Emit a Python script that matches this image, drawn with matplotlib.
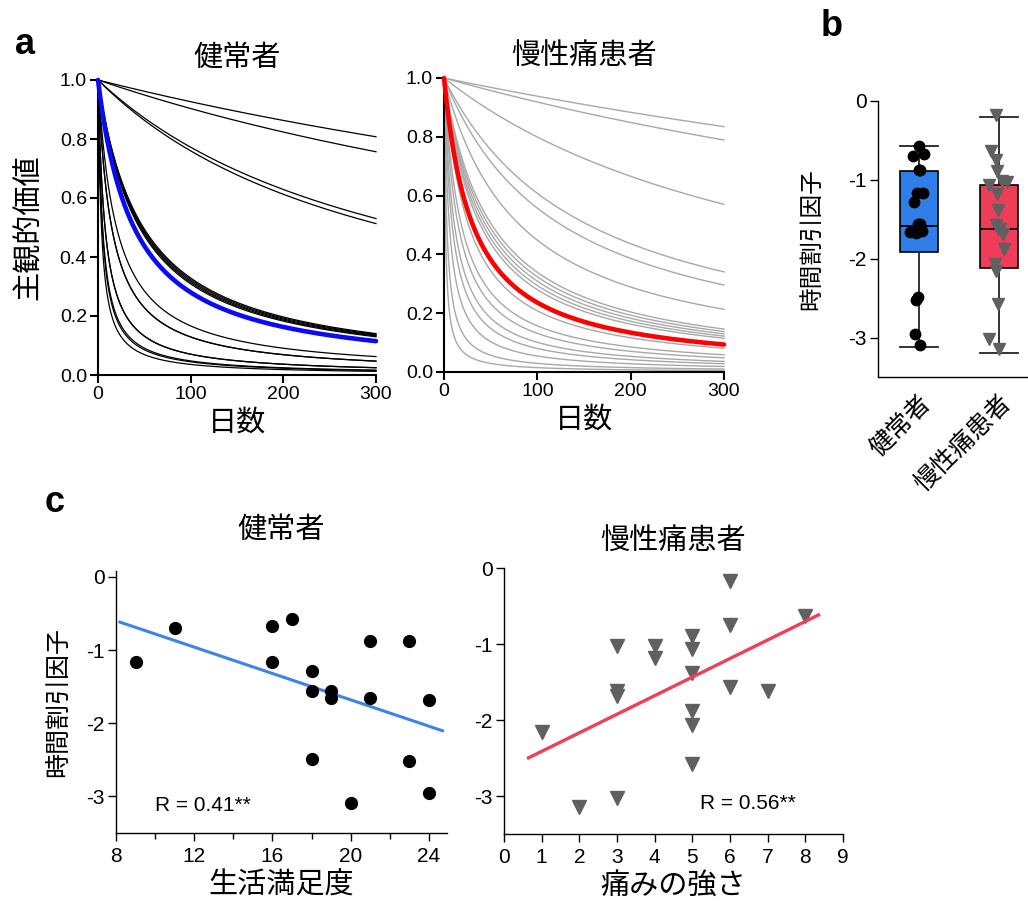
import matplotlib
matplotlib.use("Agg")
from matplotlib import pyplot as plt
import numpy as np

plt.rcParams['font.family'] = ['Liberation Sans', 'Noto Sans CJK JP']
plt.rcParams['axes.unicode_minus'] = False

# discount factors (log10 k) of the individual curves in panel a
h_curve_fac = [-3.10, -2.97, -2.53, -2.50, -1.69, -1.68, -1.67, -1.66, -1.65,
               -1.30, -1.17, -1.17, -0.88, -0.88, -0.70, -0.67, -0.57]
p_curve_fac = [-3.18, -3.05, -2.60, -2.19, -2.10, -1.91, -1.71, -1.68, -1.65,
               -1.62, -1.59, -1.42, -1.27, -1.18, -1.05, -0.94, -0.76, -0.48, -0.175]
h_group_fac = -1.59
p_group_fac = -1.49

# healthy group: life satisfaction vs discount factor
h_sat = [9, 11, 16, 16, 17, 18, 18, 18, 19, 19, 20, 21, 21, 23, 23, 24, 24]
h_fac = [-1.17, -0.70, -0.67, -1.17, -0.57, -1.28, -1.56, -2.49, -1.56, -1.66,
         -3.09, -0.88, -1.65, -0.88, -2.52, -1.68, -2.96]
# chronic pain group: pain intensity vs discount factor
p_int = [1, 2, 3, 3, 3, 3, 4, 4, 5, 5, 5, 5, 5, 5, 6, 6, 6, 7, 8]
p_fac = [-2.16, -3.14, -1.02, -1.62, -1.69, -3.02, -1.03, -1.18, -0.89, -1.07,
         -1.38, -1.88, -2.07, -2.58, -0.175, -0.745, -1.57, -1.62, -0.635]

# box stats
box_h = dict(med=-1.59, q1=-1.91, q3=-0.89, whislo=-3.12, whishi=-0.574, fliers=[])
box_p = dict(med=-1.62, q1=-2.12, q3=-1.06, whislo=-3.196, whishi=-0.204, fliers=[])

# jitter of the dots in panel b
jit_h = [0.05, -0.075, 0.066, -0.025, 0.0, -0.058, 0.008, -0.008, -0.017, -0.108,
         0.008, 0.017, 0.037, 0.0, -0.033, -0.033, -0.05]
jit_p = [-0.037, 0.0, 0.033, 0.012, 0.046, -0.12, 0.104, -0.029, -0.021, -0.12,
         -0.008, 0.062, -0.05, -0.008, -0.041, -0.037, -0.037, -0.02, -0.104]

group_names = ['健常者', '慢性痛患者']

W, H = 1028, 905
fig = plt.figure(figsize=(W / 100, H / 100), dpi=100)


def px_axes(l, t, r, b):
    return fig.add_axes([l / W, 1 - b / H, (r - l) / W, (b - t) / H])


def style(ax, lw=1.0, size=15):
    ax.spines['top'].set_visible(False)
    ax.spines['right'].set_visible(False)
    ax.spines['left'].set_linewidth(lw)
    ax.spines['bottom'].set_linewidth(lw)
    ax.tick_params(direction='out', length=6, width=lw, labelsize=size, pad=2)


days = np.linspace(0, 300, 601)

# ---- panel a
for (l, t, r, b), fac, col, lw, gfac, gcol, title in [
        ((98, 80, 376, 375), h_curve_fac, 'black', 0.9, h_group_fac, '#0a0af5', '健常者'),
        ((444, 78, 724, 372), p_curve_fac, '#a8a8a8', 1.0, p_group_fac, '#ff0000', '慢性痛患者')]:
    ax = px_axes(l, t, r, b)
    for f in fac:
        ax.plot(days, 1 / (1 + 10 ** f * days), color=col, lw=lw, clip_on=False)
    ax.plot(days, 1 / (1 + 10 ** gfac * days), color=gcol, lw=3.3,
            solid_capstyle='round', clip_on=False, zorder=5)
    ax.set_xlim(0, 300)
    ax.set_ylim(0, 1)
    ax.set_xticks([0, 100, 200, 300])
    ax.set_yticks([0, 0.2, 0.4, 0.6, 0.8, 1.0])
    ax.set_yticklabels(['0.0', '0.2', '0.4', '0.6', '0.8', '1.0'])
    style(ax, lw=1.5, size=14)
    ax.set_title(title, fontsize=21, pad=10)
    ax.set_xlabel('日数', fontsize=21, labelpad=4)
    if l < 200:
        ax.set_ylabel('主観的価値', fontsize=21, labelpad=12)

# ---- panel b
axb = px_axes(878, 101, 1028, 377)
axb.bxp([box_h, box_p], positions=[1, 2], widths=0.47, patch_artist=True,
        showfliers=False,
        boxprops=dict(linewidth=1.2, edgecolor='black'),
        medianprops=dict(color='black', linewidth=1.3),
        whiskerprops=dict(color='#222222', linewidth=1.3),
        capprops=dict(color='#222222', linewidth=1.3), capwidths=0.47)
axb.patches[0].set_facecolor('#2f7de6')
axb.patches[1].set_facecolor('#ef3c59')
axb.plot(1 + np.array(jit_h), h_fac, 'o', color='black', ms=7.5, zorder=5,
         clip_on=False)
axb.plot(2 + np.array(jit_p), p_fac, 'v', color='#606060', ms=9, zorder=5,
         clip_on=False)
axb.set_xlim(0.49, 2.36)
axb.set_ylim(-3.5, 0)
axb.set_yticks([0, -1, -2, -3])
axb.set_yticklabels(['0', '-1', '-2', '-3'])
style(axb, lw=1.0, size=15)
axb.set_xticks([1, 2])
axb.set_xticklabels(group_names, rotation=45, ha='right', rotation_mode='anchor',
                    fontsize=18)
axb.tick_params(axis='x', length=0, pad=10)
axb.set_ylabel('時間割引因子', fontsize=17, labelpad=18)

# ---- panel c, healthy
axc1 = px_axes(116, 571, 447, 833)
axc1.plot(h_sat, h_fac, 'o', color='black', ms=8.5, zorder=4)
slope, icpt = np.polyfit(h_sat, h_fac, 1)
xx = np.array([8.2, 24.7])
axc1.plot(xx, slope * xx + icpt, color='#3a85e8', lw=2.2, zorder=3)
axc1.set_xlim(8, 24.93)
axc1.set_ylim(-3.5, 0.08)
axc1.set_xticks([8, 12, 16, 20, 24])
axc1.set_xticks([10, 14, 18, 22], minor=True)
axc1.set_yticks([0, -1, -2, -3])
axc1.set_yticklabels(['0', '-1', '-2', '-3'])
style(axc1, lw=1.0, size=15)
axc1.tick_params(axis='x', pad=4)
axc1.tick_params(which='minor', direction='out', length=4, width=1.0)
axc1.set_title('健常者', fontsize=21, pad=24)
axc1.set_xlabel('生活満足度', fontsize=21, labelpad=4)
axc1.set_ylabel('時間割引因子', fontsize=18, labelpad=12)
axc1.text(10.0, -3.13, 'R = 0.41**', fontsize=15, va='center')

# ---- panel c, chronic pain
axc2 = px_axes(504, 568, 843, 834)
axc2.plot(p_int, p_fac, 'v', color='#606060', ms=10, zorder=4)
slope, icpt = np.polyfit(p_int, p_fac, 1)
xx = np.array([0.65, 8.35])
axc2.plot(xx, slope * xx + icpt, color='#ee4058', lw=2.4, zorder=5)
axc2.set_xlim(0, 9)
axc2.set_ylim(-3.5, 0)
axc2.set_xticks(range(10))
axc2.set_yticks([0, -1, -2, -3])
axc2.set_yticklabels(['0', '-1', '-2', '-3'])
style(axc2, lw=1.0, size=15)
axc2.tick_params(axis='x', pad=4)
axc2.set_title('慢性痛患者', fontsize=21, pad=14)
axc2.set_xlabel('痛みの強さ', fontsize=21, labelpad=4)
axc2.text(5.2, -3.1, 'R = 0.56**', fontsize=15, va='center')

# panel letters
for txt, x, y in [('a', 25, 45), ('b', 832, 27), ('c', 55, 502)]:
    fig.text(x / W, 1 - y / H, txt, fontsize=26, fontweight='bold',
             ha='center', va='center')

fig.savefig('out.png', dpi=100)
